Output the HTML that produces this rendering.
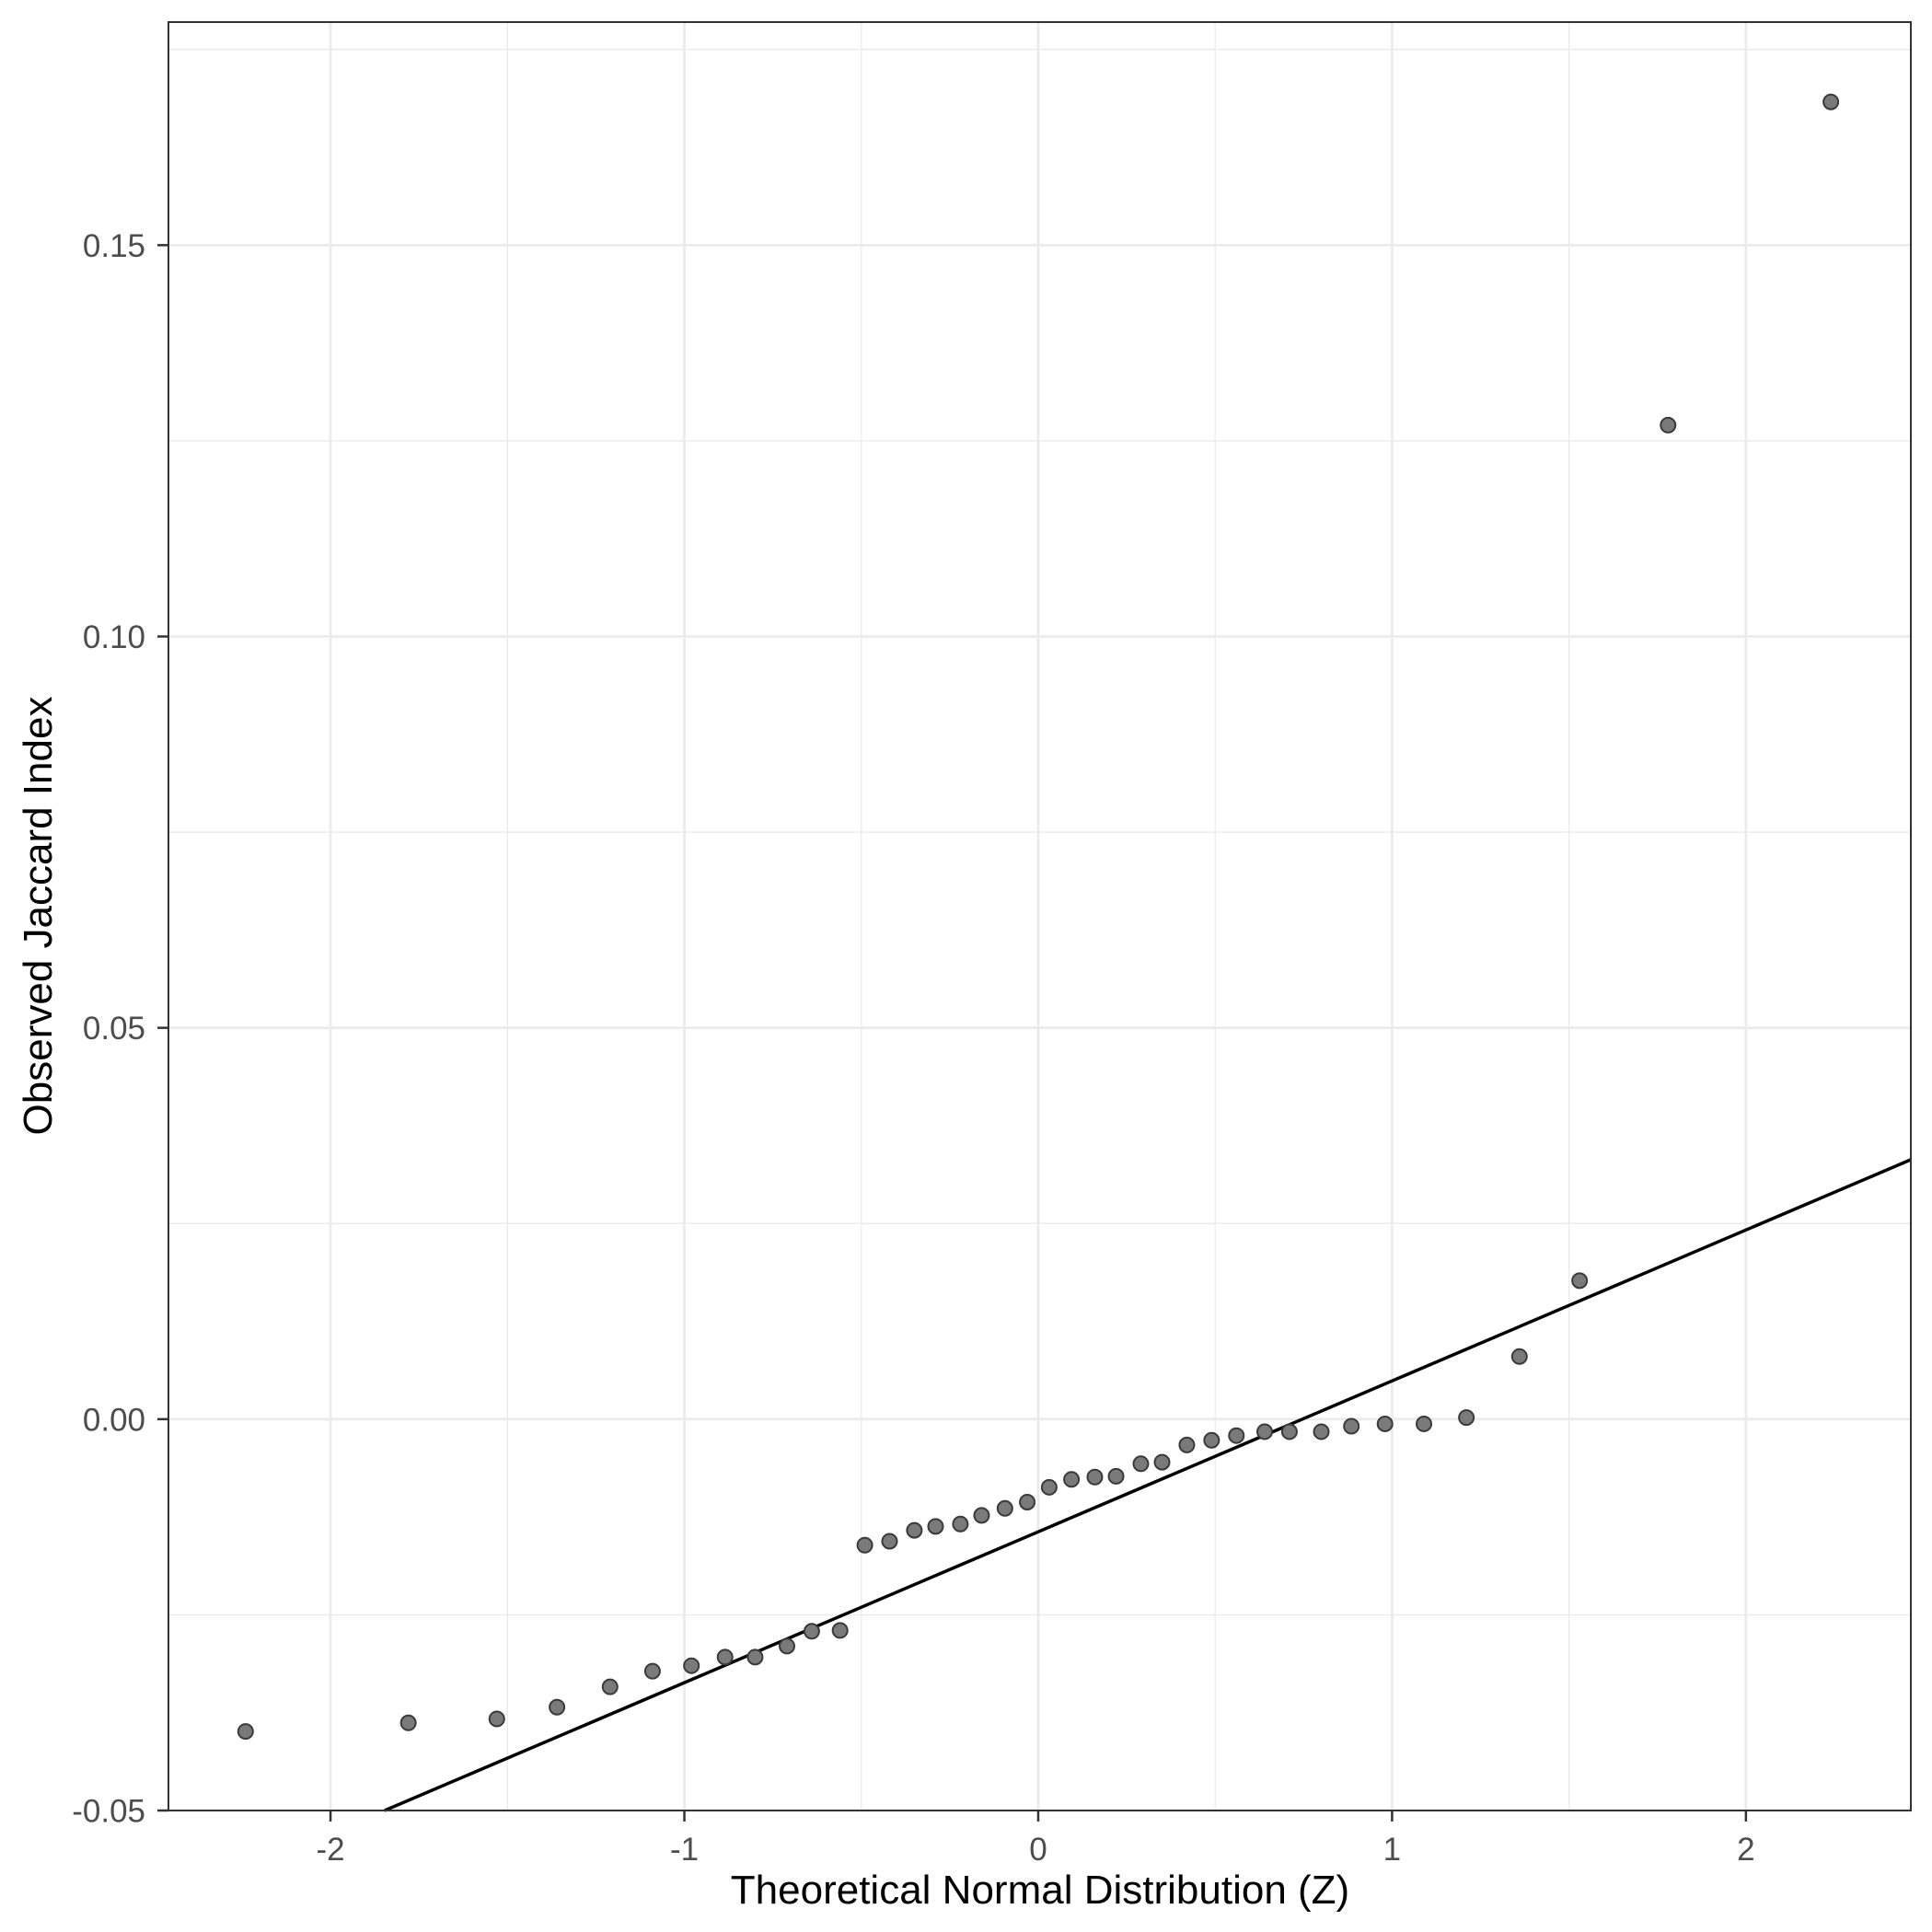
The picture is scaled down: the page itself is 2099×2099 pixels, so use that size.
<!DOCTYPE html>
<html><head><meta charset="utf-8"><style>html,body{margin:0;padding:0;background:#fff}svg{display:block}</style></head>
<body>
<svg id="chart" width="2099" height="2099" xmlns="http://www.w3.org/2000/svg" font-family="'Liberation Sans', sans-serif">
<rect width="2099" height="2099" fill="#fff"/>
<g id="grid"></g>
<line id="ref-line" stroke="#000" stroke-width="3.5"/>
<g id="points"></g>
<rect x="183" y="24" width="1893" height="1943" fill="none" stroke="#333" stroke-width="2"/>
<g id="axes"></g>
<text x="1130" y="2068" font-size="44" text-anchor="middle" fill="#000">Theoretical Normal Distribution (Z)</text>
<text transform="translate(56,995) rotate(-90)" font-size="44" text-anchor="middle" fill="#000">Observed Jaccard Index</text>
</svg>
<script>
const theoreticalZ=[-2.24,-1.78,-1.53,-1.36,-1.21,-1.09,-0.98,-0.885,-0.80,-0.71,-0.64,-0.56,-0.49,-0.42,-0.35,-0.29,-0.22,-0.16,-0.094,-0.031,0.031,0.094,0.16,0.22,0.29,0.35,0.42,0.49,0.56,0.64,0.71,0.80,0.885,0.98,1.09,1.21,1.36,1.53,1.78,2.24];
const observedJaccard=[-0.0399,-0.0388,-0.0383,-0.0368,-0.0342,-0.0322,-0.0315,-0.0304,-0.0304,-0.029,-0.0271,-0.027,-0.0161,-0.0156,-0.0142,-0.0137,-0.0134,-0.0123,-0.0114,-0.0106,-0.0087,-0.0077,-0.0074,-0.0073,-0.0057,-0.0055,-0.0033,-0.0027,-0.0021,-0.0016,-0.0016,-0.0016,-0.0009,-0.0006,-0.0006,0.0002,0.008,0.0177,0.127,0.1683];
const xTicks=[-2,-1,0,1,2];
const xTickLabels=["-2","-1","0","1","2"];
const yTicks=[-0.05,0,0.05,0.10,0.15];
const yTickLabels=["-0.05","0.00","0.05","0.10","0.15"];
const xMinor=[-1.5,-0.5,0.5,1.5];
const yMinor=[-0.025,0.025,0.075,0.125,0.175];
const lineSlope=0.01928, lineIntercept=-0.01439;
const L=183,R=2076,T=24,B=1967;
const xMin=-2.458,xMax=2.466,yMin=-0.05,yMax=0.1785;
const sx=v=>L+(v-xMin)/(xMax-xMin)*(R-L);
const sy=v=>B-(v-yMin)/(yMax-yMin)*(B-T);
const NS="http://www.w3.org/2000/svg";
function mk(tag,attrs,parent){const e=document.createElementNS(NS,tag);for(const k in attrs)e.setAttribute(k,attrs[k]);parent.appendChild(e);return e;}
const grid=document.getElementById('grid'),axes=document.getElementById('axes'),pts=document.getElementById('points');
xMinor.forEach(v=>{const e=mk('line',{x1:sx(v),x2:sx(v),y1:T,y2:B,stroke:'#EBEBEB','stroke-width':1.4},grid);

});
yMinor.forEach(v=>{if(sy(v)<T)return;const e=mk('line',{x1:L,x2:R,y1:sy(v),y2:sy(v),stroke:'#EBEBEB','stroke-width':1.4},grid);

});
xTicks.forEach((v,i)=>{const e=mk('line',{x1:sx(v),x2:sx(v),y1:T,y2:B,stroke:'#EBEBEB','stroke-width':2.8},grid);


const t=mk('line',{x1:sx(v),x2:sx(v),y1:B,y2:B+12,stroke:'#333','stroke-width':2.5},axes);


const l=mk('text',{x:sx(v),y:2021,'font-size':35,'text-anchor':'middle',fill:'#4D4D4D'},axes);l.textContent=xTickLabels[i];

});
yTicks.forEach((v,i)=>{const e=mk('line',{x1:L,x2:R,y1:sy(v),y2:sy(v),stroke:'#EBEBEB','stroke-width':2.8},grid);


const t=mk('line',{x1:L-12,x2:L,y1:sy(v),y2:sy(v),stroke:'#333','stroke-width':2.5},axes);


const l=mk('text',{x:158,y:sy(v)+12.5,'font-size':35,'text-anchor':'end',fill:'#4D4D4D'},axes);l.textContent=yTickLabels[i];

});
// reference line clipped to panel
let x1=(yMin-lineIntercept)/lineSlope;if(x1<xMin)x1=xMin;
let x2=xMax;
const ln=document.getElementById('ref-line');
ln.setAttribute('x1',sx(x1));ln.setAttribute('y1',sy(lineIntercept+lineSlope*x1));
ln.setAttribute('x2',sx(x2));ln.setAttribute('y2',sy(lineIntercept+lineSlope*x2));
theoreticalZ.forEach((z,i)=>{const c=mk('circle',{cx:sx(z),cy:sy(observedJaccard[i]),r:8,fill:'#7A7A7A',stroke:'#3A3A3A','stroke-width':2},pts);

});
</script>
</body></html>
